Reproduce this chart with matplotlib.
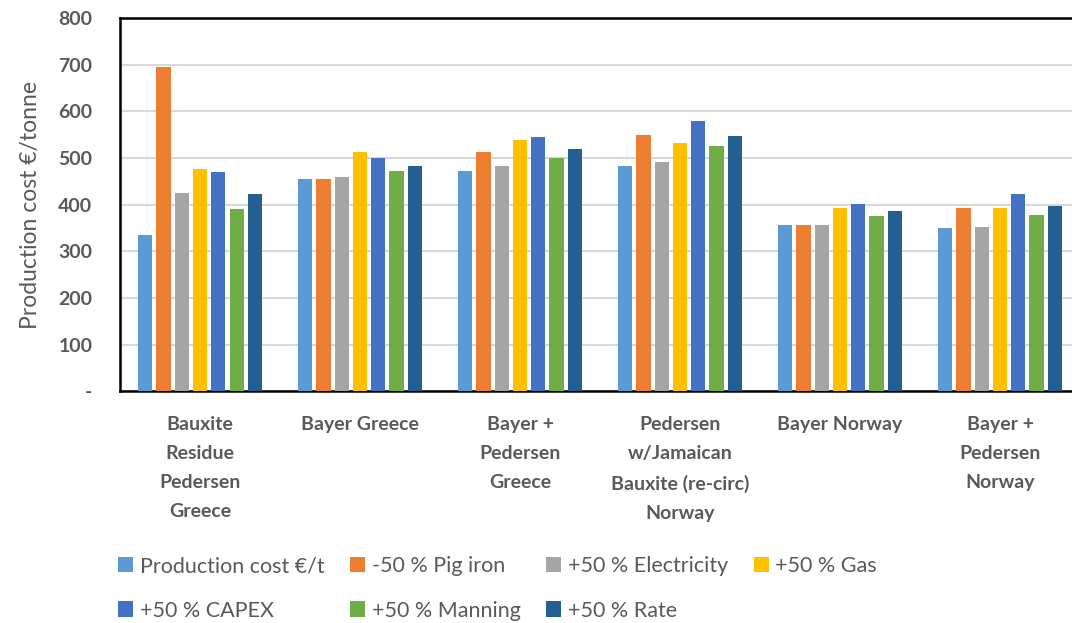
import numpy as np
import matplotlib
matplotlib.use('Agg')
import matplotlib.pyplot as plt

plt.rcParams['font.family'] = ['Lato', 'DejaVu Sans']

categories = ['Bauxite\nResidue\nPedersen\nGreece', 'Bayer Greece',
              'Bayer +\nPedersen\nGreece', 'Pedersen\nw/Jamaican\nBauxite (re-circ)\nNorway',
              'Bayer Norway', 'Bayer +\nPedersen\nNorway']

series_names = ['Production cost €/t', '-50 % Pig iron', '+50 % Electricity', '+50 % Gas',
                '+50 % CAPEX', '+50 % Manning', '+50 % Rate']

production_cost = [336, 455, 472, 483, 356, 351]
pig_iron = [695, 455, 513, 549, 356, 393]
electricity = [424, 459, 483, 491, 356, 353]
gas = [477, 513, 538, 533, 393, 393]
capex = [469, 500, 544, 580, 401, 423]
manning = [391, 472, 500, 525, 376, 378]
rate = [422, 483, 519, 547, 387, 398]

colors = ['#5B9BD5', '#ED7D31', '#A5A5A5', '#FFC000', '#4472C4', '#70AD47', '#255E91']

yticks = [0, 100, 200, 300, 400, 500, 600, 700, 800]
ytick_labels = ['-', '100', '200', '300', '400', '500', '600', '700', '800']

text_gray = '#595959'

fig = plt.figure(figsize=(10.72, 6.23), dpi=100)
ax = fig.add_axes([0.112, 0.372, 0.8955, 0.599])

all_series = [production_cost, pig_iron, electricity, gas, capex, manning, rate]
x = np.arange(len(categories))
pitch = 0.8 / len(all_series)
handles = []
for i, vals in enumerate(all_series):
    offs = (i - (len(all_series) - 1) / 2) * pitch
    b = ax.bar(x + offs, vals, width=pitch * 0.78, color=colors[i],
               label=series_names[i], zorder=3)
    handles.append(b)

ax.set_xlim(-0.5, len(categories) - 0.5)
ax.set_ylim(0, 800)
ax.set_yticks(yticks)
ax.set_yticklabels(ytick_labels, fontsize=14, fontweight='bold', color=text_gray)
ax.set_xticks(x)
ax.set_xticklabels(categories, fontsize=14, fontweight='bold', color=text_gray,
                   linespacing=1.85)
ax.tick_params(axis='both', length=0)
ax.tick_params(axis='y', pad=20)
ax.tick_params(axis='x', pad=18)
ax.yaxis.grid(True, color='#D9D9D9', linewidth=1.5, zorder=0)
ax.set_axisbelow(True)
for s in ax.spines.values():
    s.set_color('black')
    s.set_linewidth(1.8)

ax.set_ylabel('Production cost €/tonne', fontsize=16.5, color=text_gray, labelpad=12)

order = [0, 4, 1, 5, 2, 6, 3]
leg = fig.legend([handles[i] for i in order], [series_names[i] for i in order],
                 ncol=4, loc='upper left', bbox_to_anchor=(0.092, 0.138),
                 frameon=False, fontsize=15.5, handlelength=0.7, handleheight=0.7,
                 handletextpad=0.3, columnspacing=1.2, labelspacing=1.12)
for t in leg.get_texts():
    t.set_color(text_gray)

fig.savefig('out.png', dpi=100)
